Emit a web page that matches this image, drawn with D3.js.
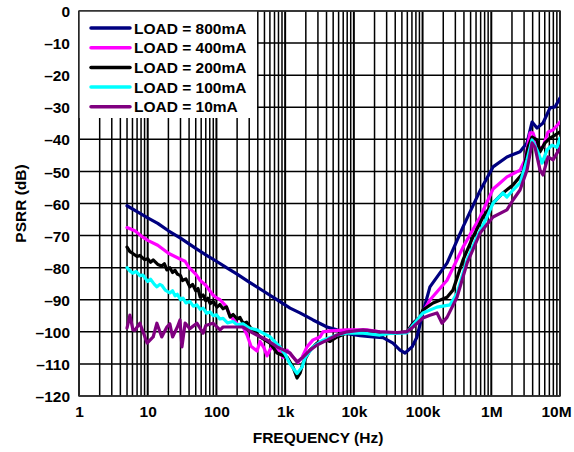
<!DOCTYPE html>
<html><head><meta charset="utf-8">
<script src="https://cdn.jsdelivr.net/npm/d3@7"></script>
<style>
html,body{margin:0;padding:0;background:#fff;}
svg{display:block;}
text{font-family:"Liberation Sans",Arial,Helvetica,sans-serif;font-weight:bold;fill:#000;}
</style></head>
<body>
<script>
// ---- data ----
const xTickValues = [1, 10, 100, 1e3, 1e4, 1e5, 1e6, 1e7];
const xTickLabels = ["1", "10", "100", "1k", "10k", "100k", "1M", "10M"];
const yTickValues = [0, -10, -20, -30, -40, -50, -60, -70, -80, -90, -100, -110, -120];
const yTickLabels = ["0", "–10", "–20", "–30", "–40", "–50", "–60", "–70", "–80", "–90", "–100", "–110", "–120"];
const seriesNames = ["LOAD = 800mA", "LOAD = 400mA", "LOAD = 200mA", "LOAD = 100mA", "LOAD = 10mA"];
const seriesColors = ["#000080", "#ff00ff", "#000000", "#00ffff", "#800080"];

const freq800 = [5, 7, 10, 14, 20, 30, 50, 70, 100, 140, 200, 300, 500, 700, 1180, 1640, 2545, 4070, 5690, 7950, 12300, 19000, 26600, 37100, 47000, 55600, 70200, 83000, 101000, 128000, 227000, 388000, 686000, 1.06e6, 1.69e6, 2.62e6, 3.31e6, 3.92e6, 4.63e6, 5.66e6, 7.16e6, 8.46e6, 10e6];
const db800 = [-60.7, -62.5, -64.5, -66.2, -68.5, -70.8, -74, -76, -78, -80, -82, -84.5, -87.5, -89.5, -92.6, -94.1, -96.3, -98.5, -99.4, -100.6, -101.2, -101.6, -101.8, -103.5, -105.7, -106.6, -104.7, -101.6, -94, -86, -78.6, -67.3, -56, -48.6, -45.5, -43.9, -41.1, -34.6, -36.5, -34.9, -30.2, -29.9, -27.1];

const freq400 = [5, 6.5, 8.5, 10, 14, 20, 29.5, 35, 40, 50, 58, 70, 89, 102, 113, 138, 158, 200, 244, 279, 319, 390, 431, 492, 545, 603, 712, 842, 931, 1065, 1302, 1540, 1760, 2080, 2545, 3215, 3557, 4500, 7950, 15500, 24000, 42500, 59400, 72600, 91800, 128000, 227000, 388000, 686000, 1.06e6, 1.34e6, 1.69e6, 2.62e6, 3.1e6, 3.66e6, 4.05e6, 4.79e6, 5.66e6, 6.69e6, 7.91e6, 10e6];
const db400 = [-67.5, -68.5, -70.5, -71.5, -73, -75.5, -77.3, -78, -80, -82, -84, -85.5, -88.5, -89.5, -90, -92, -95, -97.5, -98.5, -101, -104.5, -106, -103, -105, -107.5, -105.5, -104, -106.5, -108, -105.7, -107.9, -109.5, -108, -104.7, -102.5, -101.6, -100, -99.7, -99.4, -99.4, -100, -100.4, -100, -97.3, -95.4, -90.1, -83.9, -73.6, -64.2, -55.5, -53.6, -51.7, -49.6, -46.4, -38, -38, -42.7, -42.4, -37.7, -37.1, -34.6];

const freq200 = [5, 5.5, 6, 7, 7.7, 9, 10, 11, 12, 14, 16, 17.5, 19, 21, 23, 25, 27, 30, 32, 36, 41, 45, 50, 54, 58, 64, 70, 75, 81, 90, 102, 112, 125, 140, 158, 175, 200, 220, 244, 275, 308, 431, 603, 762, 1065, 1302, 1490, 1646, 1820, 2300, 2910, 4067, 4500, 5690, 7950, 13600, 24000, 42500, 59400, 72600, 91800, 101000, 142000, 227000, 277000, 388000, 542000, 758000, 1.06e6, 1.48e6, 2.07e6, 2.9e6, 3.42e6, 3.92e6, 4.63e6, 5.12e6, 6.05e6, 7.16e6, 8.46e6, 10e6];
const db200 = [-73.6, -75, -75.5, -76.5, -76.2, -77.5, -77.2, -78.3, -77.6, -79, -79.5, -78.8, -80.7, -80, -81.5, -80.8, -82, -82.5, -84, -83.5, -86, -85.2, -87.2, -86.5, -89.2, -88.5, -90.3, -89.5, -91.2, -90.6, -92.3, -91.5, -92.8, -92.2, -95.4, -94.6, -96, -95.5, -97.3, -97, -98.5, -101.6, -103.5, -106.6, -107.9, -111, -114.4, -112.9, -109.7, -105.7, -103.5, -102.6, -103, -101.6, -100.4, -100.2, -100.4, -100.3, -100, -97.3, -95.4, -93.2, -91, -89.2, -87, -77.6, -70.4, -64.2, -59.9, -56.7, -54.2, -50.5, -42.4, -39.3, -40.2, -43.9, -41.1, -39.6, -38.7, -37.7];

const freq100 = [5, 5.5, 6.1, 6.8, 7.7, 8.5, 10, 11, 12.5, 13.6, 15, 16, 18, 21, 23, 25, 27, 30, 32.6, 36, 41, 46, 52, 58, 64, 72, 81, 90, 100, 112, 125, 145, 174, 200, 244, 300, 390, 603, 842, 1000, 1178, 1490, 1760, 1945, 2545, 3557, 5690, 7950, 13600, 24000, 33600, 59400, 72600, 101000, 162000, 251000, 317000, 444000, 620000, 867000, 1.06e6, 1.48e6, 1.69e6, 2.07e6, 2.62e6, 3.31e6, 3.92e6, 4.63e6, 5.48e6, 6.47e6, 7.65e6, 9.05e6, 10e6];
const db100 = [-80, -81, -81.7, -81.2, -82.5, -82.3, -84.3, -83.6, -85.2, -86, -85.2, -85.5, -87, -87.9, -87.2, -88.8, -88.3, -90, -89.5, -91, -90.5, -92, -91.6, -93, -92.6, -94.2, -93.8, -95, -94.7, -96, -95.8, -97.2, -96.8, -97.8, -97.5, -98.8, -99.4, -101.6, -104.7, -107, -110, -113, -111, -108.2, -104.7, -102.6, -101, -100.4, -100.4, -101, -100.5, -100.3, -97.9, -94.1, -92.3, -91.6, -88, -77.6, -70.4, -64.2, -59.9, -56.7, -58, -55.8, -53.6, -46.4, -40.2, -43.3, -47.4, -43.3, -41.8, -42.5, -39.6];

const freq10 = [5, 5.5, 6.1, 6.5, 7.7, 9.8, 12, 13.6, 16, 19, 21, 23, 27, 29.5, 31.5, 35, 41, 52, 64, 70, 89, 113, 125, 174, 244, 341, 545, 762, 1178, 1490, 1820, 2300, 2910, 4067, 5690, 7950, 13600, 24000, 42500, 59400, 72600, 101000, 128000, 162000, 192000, 227000, 317000, 444000, 686000, 1.06e6, 1.69e6, 2.07e6, 2.62e6, 3.31e6, 3.92e6, 4.33e6, 5.12e6, 5.66e6, 6.69e6, 7.91e6, 10e6];
const db10 = [-98.8, -94.8, -99.4, -99.5, -97.3, -103.5, -101.6, -97.3, -101.6, -98.5, -97.5, -101.6, -98.5, -96.3, -104.7, -97.3, -99, -97.3, -100.4, -98, -97.3, -99.4, -98.5, -98.5, -98.5, -100.4, -102.6, -104.7, -106.6, -109.4, -107.9, -105.7, -104.1, -102.6, -101, -100, -99.4, -100, -100.2, -100, -98.5, -95.7, -94.8, -94.1, -97.3, -95.5, -89.2, -78.6, -69.2, -64.2, -62, -58.9, -55.8, -49.6, -41.1, -42.5, -49.6, -51.1, -45.5, -46.4, -42.7];

const seriesFreqs = [freq800, freq400, freq200, freq100, freq10];
const seriesDb = [db800, db400, db200, db100, db10];

// ---- chart ----
const W = 574, H = 452;
const FS = 15.5;
const svg = d3.select("body").append("svg").attr("width", W).attr("height", H);

const x = d3.scaleLog().domain([1, 1e7]).range([79, 560]);
const y = d3.scaleLinear().domain([-120, 0]).range([396, 11]);

// grid
const gridX = [];
for (let d = 0; d < 7; d++) for (let k = 1; k < 10; k++) gridX.push(k * Math.pow(10, d));
gridX.push(1e7);
const g = svg.append("g");
g.selectAll("line.v").data(gridX).join("line")
  .attr("x1", d => x(d)).attr("x2", d => x(d))
  .attr("y1", y(0)).attr("y2", y(-120))
  .attr("stroke", "#000").attr("stroke-width", d => xTickValues.includes(d) ? 2 : 1.5);
g.selectAll("line.h").data(yTickValues).join("line")
  .attr("x1", x(1)).attr("x2", x(1e7))
  .attr("y1", d => y(d)).attr("y2", d => y(d))
  .attr("stroke", "#000").attr("stroke-width", 1.5);

// legend background
svg.append("rect").attr("x", x(1)).attr("y", y(0)).attr("width", 178).attr("height", 107).attr("fill", "#fff");

// frame
svg.append("rect").attr("x", x(1)).attr("y", y(0))
  .attr("width", x(1e7) - x(1)).attr("height", y(-120) - y(0))
  .attr("fill", "none").attr("stroke", "#333").attr("stroke-width", 1.5);

// axes
const xAxis = d3.axisBottom(x).tickValues(xTickValues)
  .tickFormat((d, i) => xTickLabels[i]).tickSize(0).tickPadding(0);
const gx = svg.append("g").attr("transform", `translate(0,${y(-120)})`).call(xAxis);
gx.select(".domain").remove();
gx.selectAll("text").attr("dy", null).attr("y", 21).attr("font-size", FS)
  .attr("dx", (d, i) => i === xTickValues.length - 1 ? -4 : 0)
  .style("font-family", "'Liberation Sans', Arial, sans-serif").style("font-weight", "bold").attr("fill", "#000");

const yAxis = d3.axisLeft(y).tickValues(yTickValues)
  .tickFormat((d, i) => yTickLabels[i]).tickSize(0).tickPadding(0);
const gy = svg.append("g").attr("transform", `translate(${x(1) - 9},0)`).call(yAxis);
gy.select(".domain").remove();
gy.selectAll("text").attr("dy", "0.36em").attr("x", 0).attr("font-size", FS)
  .style("font-family", "'Liberation Sans', Arial, sans-serif").style("font-weight", "bold").attr("fill", "#000");

// axis titles
svg.append("text").attr("x", 318).attr("y", 443).attr("text-anchor", "middle")
  .attr("font-size", FS).text("FREQUENCY (Hz)");
svg.append("text").attr("transform", `translate(26,${(y(0) + y(-120)) / 2}) rotate(-90)`)
  .attr("text-anchor", "middle").attr("font-size", FS).text("PSRR (dB)");

// lines
const line = d3.line().x(d => x(d[0])).y(d => y(d[1])).curve(d3.curveLinear);
svg.append("clipPath").attr("id", "clip").append("rect")
  .attr("x", x(1)).attr("y", y(0)).attr("width", x(1e7) - x(1)).attr("height", y(-120) - y(0));
const lg = svg.append("g").attr("clip-path", "url(#clip)");
seriesNames.forEach((name, i) => {
  const pts = seriesFreqs[i].map((f, j) => [f, seriesDb[i][j]]);
  lg.append("path").datum(pts).attr("d", line)
    .attr("fill", "none").attr("stroke", seriesColors[i]).attr("stroke-width", 3.2)
    .attr("stroke-linejoin", "round").attr("stroke-linecap", "round");
});

// legend
const leg = svg.append("g");
seriesNames.forEach((name, i) => {
  const ly = 28 + i * 19.7;
  leg.append("line").attr("x1", 91).attr("x2", 130).attr("y1", ly).attr("y2", ly)
    .attr("stroke", seriesColors[i]).attr("stroke-width", 3.5).attr("stroke-linecap", "round");
  leg.append("text").attr("x", 134).attr("y", ly).attr("dy", "0.36em")
    .attr("font-size", FS).text(name);
});
</script>
</body></html>
